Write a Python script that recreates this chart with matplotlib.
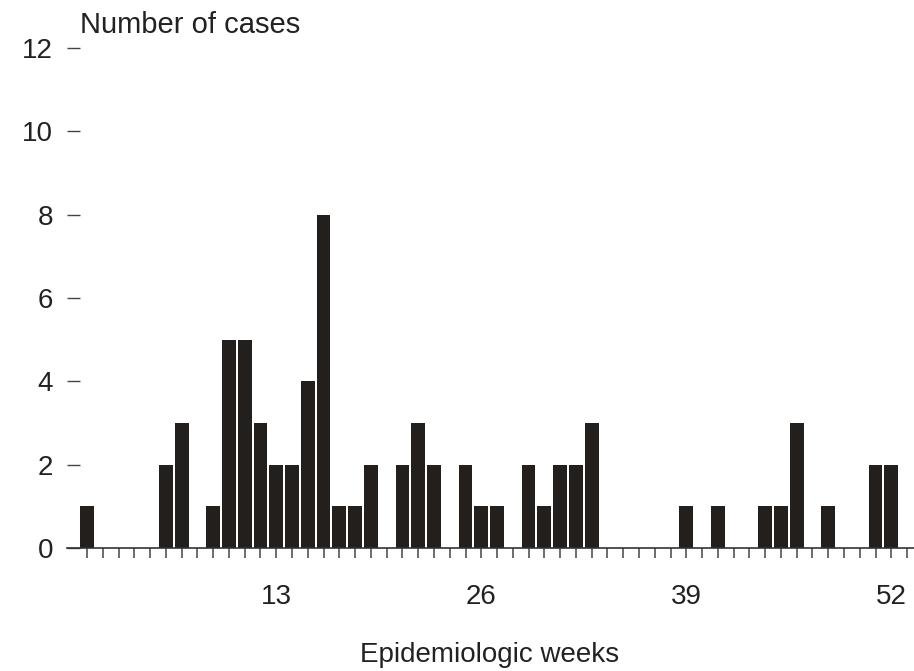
import matplotlib.pyplot as plt

plt.rcParams["font.family"] = ["Liberation Sans", "DejaVu Sans"]

# 疫学週ごとの症例数 (1-52週)
weeks = list(range(1, 53))
cases = [
    1, 0, 0, 0, 0, 2, 3, 0, 1, 5, 5, 3, 2,
    2, 4, 8, 1, 1, 2, 0, 2, 3, 2, 0, 2, 1,
    1, 0, 2, 1, 2, 2, 3, 0, 0, 0, 0, 0, 1,
    0, 1, 0, 0, 1, 1, 3, 0, 1, 0, 0, 2, 2,
]
week_ticks = list(range(1, 54))
labeled_weeks = [13, 26, 39, 52]
y_ticks = [0, 2, 4, 6, 8, 10, 12]

fig = plt.figure(figsize=(9.14, 6.71), dpi=100)
ax = fig.add_axes([67 / 914, 123 / 671, 847 / 914, 500 / 671])

ax.bar(weeks, cases, width=0.87, color="#231f1d", edgecolor="none", zorder=2)

ax.set_xlim(-0.27, 53.44)
ax.set_ylim(0, 12)

for side in ("top", "right", "left"):
    ax.spines[side].set_visible(False)
ax.spines["bottom"].set_color("#333333")
ax.spines["bottom"].set_linewidth(1.2)

ax.set_xticks(week_ticks)
ax.set_xticklabels([str(w) if w in labeled_weeks else "" for w in week_ticks])
ax.tick_params(axis="x", length=7, width=1.1, color="#444444", pad=19,
               labelsize=20, labelcolor="#222222")

ax.set_yticks(y_ticks)
ax.tick_params(axis="y", direction="in", length=9, width=1.0, color="#444444",
               pad=10, labelsize=20, labelcolor="#222222")
for t in ax.yaxis.get_major_ticks():
    t.tick1line.set_clip_on(False)

fig.text(80 / 914, 1 - 25 / 671, "Number of cases", fontsize=21,
         color="#222222", va="center", ha="left")
fig.text(490 / 914, 1 - 655 / 671, "Epidemiologic weeks", fontsize=20,
         color="#222222", va="center", ha="center")

fig.savefig("out.png", dpi=100)
